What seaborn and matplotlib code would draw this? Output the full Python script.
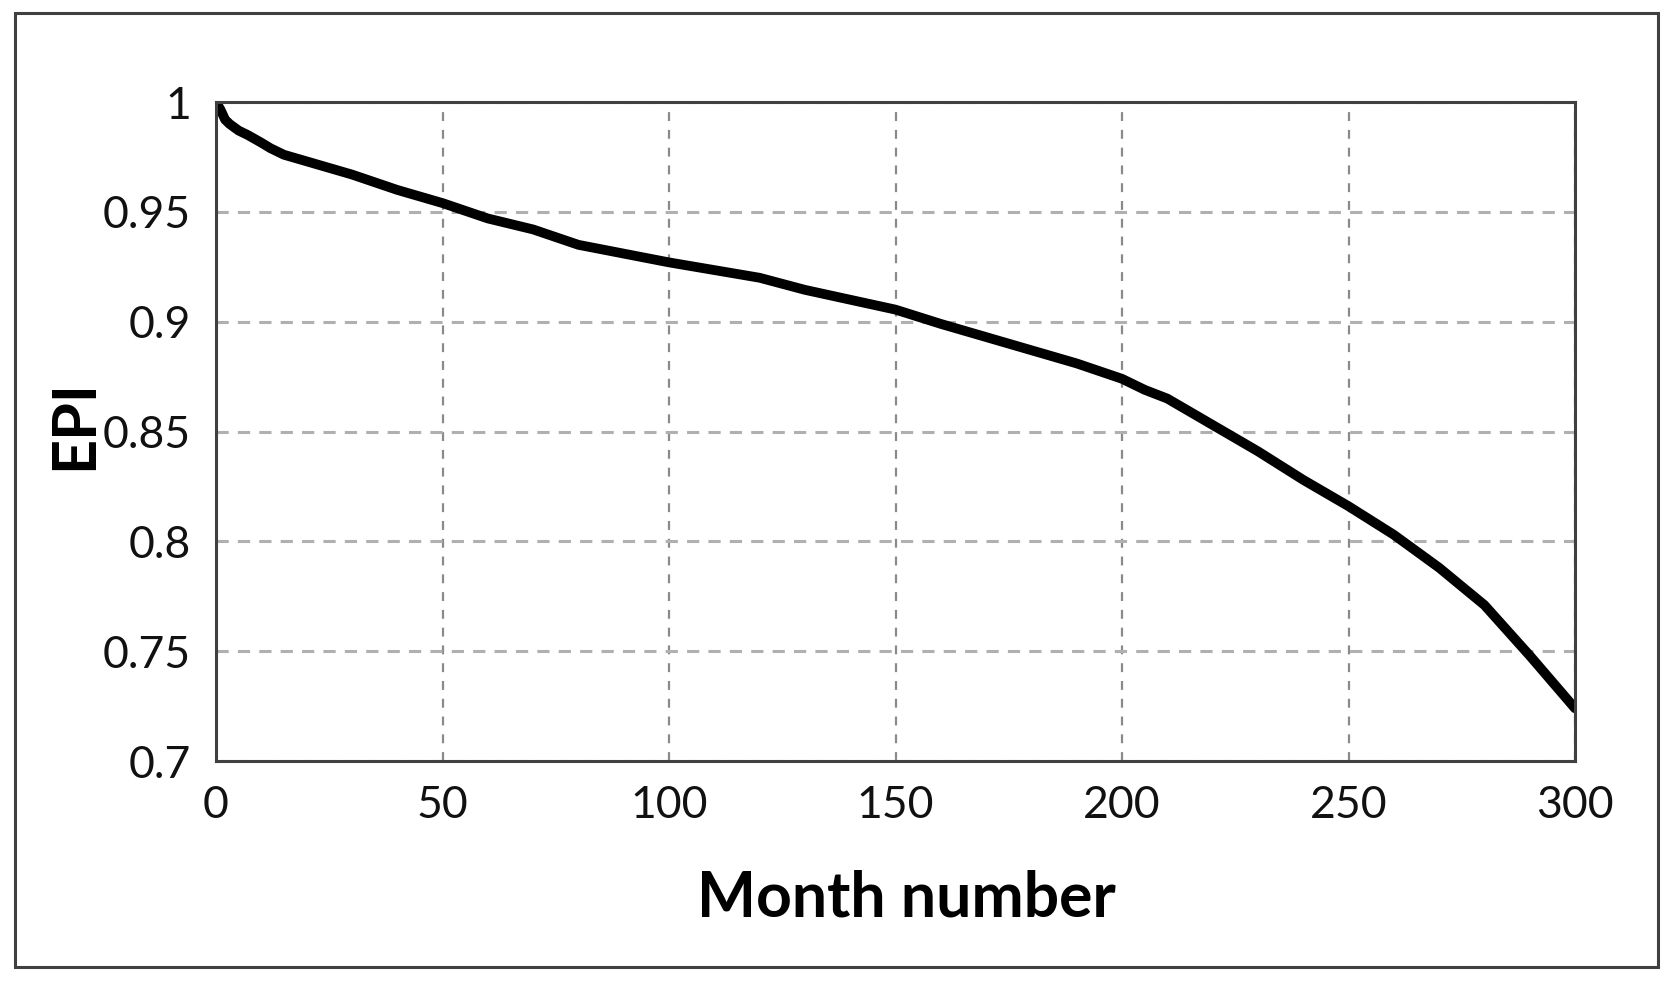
import matplotlib
matplotlib.use("Agg")
import matplotlib.pyplot as plt
import seaborn as sns
import pandas as pd
from matplotlib.patches import Rectangle

# Data
months = [0, 1, 2, 3, 5, 7, 10, 12, 15, 20, 25, 30, 40, 50, 60, 70, 80, 90, 100, 110, 120,
          130, 140, 150, 160, 170, 180, 190, 200, 205, 210, 220, 230, 240, 250, 260, 270,
          280, 290, 300]
epi = [1.0, 0.9965, 0.992, 0.990, 0.987, 0.985, 0.9815, 0.979, 0.976, 0.973, 0.970, 0.967,
       0.960, 0.954, 0.947, 0.942, 0.935, 0.931, 0.927, 0.9235, 0.920, 0.9145, 0.910,
       0.9055, 0.899, 0.893, 0.887, 0.881, 0.874, 0.869, 0.865, 0.853, 0.841, 0.828,
       0.816, 0.803, 0.788, 0.771, 0.748, 0.724]
x_ticks = [0, 50, 100, 150, 200, 250, 300]
y_ticks = [0.7, 0.75, 0.8, 0.85, 0.9, 0.95, 1.0]
y_tick_labels = ["0.7", "0.75", "0.8", "0.85", "0.9", "0.95", "1"]

df = pd.DataFrame({"Month number": months, "EPI": epi})

sns.set_theme(style="white")
plt.rcParams["font.family"] = ["Lato", "DejaVu Sans"]

fig = plt.figure(figsize=(16.72, 9.84), dpi=100)
ax = fig.add_axes([0.1292, 0.2266, 0.942 - 0.1292, 0.8963 - 0.2266])

sns.lineplot(data=df, x="Month number", y="EPI", ax=ax, color="black",
             linewidth=7, solid_capstyle="round", solid_joinstyle="round")

ax.set_xlim(0, 300)
ax.set_ylim(0.7, 1.0)
ax.set_xticks(x_ticks)
ax.set_xticklabels([str(t) for t in x_ticks])
ax.set_yticks(y_ticks)
ax.set_yticklabels(y_tick_labels)

ax.xaxis.grid(True, linestyle=(0, (4, 4)), color="#8a8a8a", linewidth=1.6)
ax.yaxis.grid(True, linestyle=(0, (4, 3)), color="#b0b0b0", linewidth=2.2)
ax.set_axisbelow(True)

for s in ax.spines.values():
    s.set_visible(True)
    s.set_color("#404040")
    s.set_linewidth(2.2)

ax.tick_params(axis="both", direction="out", length=8, width=2, color="#404040",
               labelsize=32, labelcolor="#111111", pad=10)
ax.tick_params(axis="x", pad=9)

ax.set_xlabel("Month number", fontsize=45, fontweight="bold", color="#000000")
ax.xaxis.set_label_coords(0.508, -0.165)
ax.set_ylabel("EPI", fontsize=44, fontweight="bold", color="#000000")
ax.yaxis.set_label_coords(-0.084, 0.51)

# outer frame
fig.patches.append(Rectangle((0.009, 0.0173), 0.9826, 0.9695, transform=fig.transFigure,
                             fill=False, edgecolor="#404040", linewidth=2.2))

fig.savefig("out.png", dpi=100, facecolor="white")
